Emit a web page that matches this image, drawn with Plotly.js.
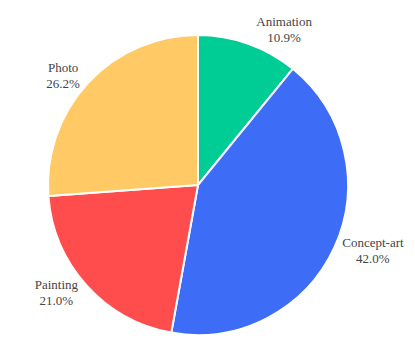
<!DOCTYPE html>
<html>
<head>
<meta charset="utf-8">
<script src="https://cdn.plot.ly/plotly-3.0.1.min.js"></script>
<style>
  html, body { margin: 0; padding: 0; background: #fff; }
  #chart { width: 415px; height: 358px; }
</style>
</head>
<body>
<div id="chart"></div>
<script>
// share of works per category (%)
const categories = ['Animation', 'Concept-art', 'Painting', 'Photo'];
const shares = [10.9, 42.0, 21.0, 26.2];
const sliceColors = ['#00CC96', '#3D6CF6', '#FF4D4D', '#FFCA66'];

const labelFont = { family: 'Times New Roman, Liberation Serif, serif', size: 13, color: '#444' };

const trace = {
    type: 'pie',
    labels: categories,
    values: shares,
    sort: false,
    direction: 'clockwise',
    rotation: 0,
    textposition: 'outside',
    automargin: false,
    texttemplate: '%{label}<br>%{value:.1f}%',
    textfont: labelFont,
    outsidetextfont: labelFont,
    marker: { colors: sliceColors, line: { color: '#fff', width: 2 } },
    showlegend: false
};

const layout = {
    width: 415,
    height: 358,
    font: labelFont,
    margin: { l: 48, r: 67, t: 35, b: 23 },
    paper_bgcolor: '#fff',
    plot_bgcolor: '#fff'
};

Plotly.newPlot('chart', [trace], layout, { displayModeBar: false });
</script>
</body>
</html>
